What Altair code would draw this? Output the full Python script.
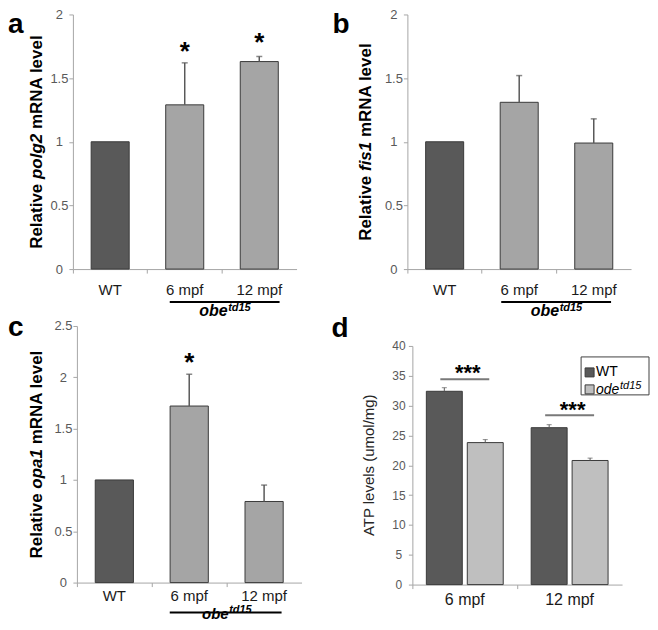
import altair as alt
import pandas as pd

# ---------------- data ----------------
categories = ["WT", "6 mpf", "12 mpf"]
groups_abc = ["WT", "mut", "mut"]

polg2_mean = [1.0, 1.29, 1.63]
polg2_err = [0.0, 0.33, 0.04]
fis1_mean = [1.0, 1.31, 0.99]
fis1_err = [0.0, 0.21, 0.19]
opa1_mean = [1.0, 1.72, 0.79]
opa1_err = [0.0, 0.31, 0.16]

stars_a_cat = ["6 mpf", "12 mpf"]
stars_a_y = [1.71, 1.78]
stars_c_cat = ["6 mpf"]
stars_c_y = [2.15]

atp_groups = ["6 mpf", "12 mpf"]
atp_series = ["WT", "ode"]
atp_wt = [32.4, 26.3]
atp_wt_err = [0.6, 0.5]
atp_ode = [23.8, 20.8]
atp_ode_err = [0.5, 0.4]
sig_line_y = [34.4, 28.4]
sig_star_y = [35.8, 29.6]

# ---------------- style ----------------
FONT = "Liberation Sans"
AX = "#a6a6a6"
LAB = "#595959"
WT_C = "#595959"
MUT_C = "#a5a5a5"
ODE_C = "#bfbfbf"
EDGE = "#3a3a3a"
ERR_C = "#595959"
COLOR_SCALE = alt.Scale(domain=["WT", "mut", "ode"], range=[WT_C, MUT_C, ODE_C])

BOLD_W = {'R': 722, 'e': 556, 'l': 278, 'a': 556, 't': 333, 'i': 278, 'v': 556,
          ' ': 278, 'p': 611, 'o': 611, 'g': 611, '2': 556, '1': 556, 'f': 333,
          's': 556, 'm': 889, 'N': 722, 'A': 722}


def tw(s, size):
    return sum(BOLD_W[c] for c in s) * size / 1000.0


one = pd.DataFrame({"k": [0]})


def txt(text, x, y, **kw):
    kw.setdefault("font", FONT)
    return alt.Chart(one).mark_text(text=text, **kw).encode(
        x=alt.value(x), y=alt.value(y))


def ytitle(pieces, cx, cy, size=17):
    total = sum(tw(t, size) for t, _ in pieces) + tw(" ", size) * (len(pieces) - 1)
    y = cy + total / 2
    out = []
    for t, it in pieces:
        out.append(txt(t, cx, y, angle=270, align="left", baseline="middle",
                       fontSize=size, fontWeight="bold",
                       fontStyle="italic" if it else "normal", color="black"))
        y -= tw(t, size) + tw(" ", size)
    return out


def obe(cx, x1, x2, yline, yb, size=16):
    line = alt.Chart(one).mark_rule(color="black", strokeWidth=2).encode(
        x=alt.value(x1), x2=alt.value(x2), y=alt.value(yline))
    t1 = txt("obe", cx + 3, yb, align="right", baseline="alphabetic", fontSize=size,
             fontWeight="bold", fontStyle="italic", color="black")
    t2 = txt("td15", cx + 3.5, yb - 5.5, align="left", baseline="alphabetic", fontSize=11,
             fontWeight="bold", fontStyle="italic", color="black")
    return [line, t1, t2]


def mrna_panel(letter, letter_x, letter_y, letter_base, gene, mean, err, ymax, yvals,
               stars_cat, stars_y, width, height, xr0, title_cx, xlab_pad,
               obe_cx, obe_x1, obe_x2, obe_line, obe_base, obe_size=16):
    df = pd.DataFrame({"cat": categories, "grp": groups_abc, "mean": mean, "err": err})
    df["top"] = df["mean"] + df["err"]

    def X(field="cat:N"):
        return alt.X(field, sort=categories,
                     scale=alt.Scale(domain=categories, range=[xr0, width],
                                     paddingInner=0, paddingOuter=0),
                     axis=alt.Axis(title=None, bandPosition=0,
                                   labelAngle=0, labelFont=FONT, labelFontSize=15,
                                   labelColor="#1a1a1a", labelPadding=xlab_pad, tickSize=4,
                                   tickColor=AX, domainColor=AX, labelOverlap=False))

    def Y(field):
        return alt.Y(field, scale=alt.Scale(domain=[0, ymax], nice=False),
                     axis=alt.Axis(title=None, values=yvals, format="~g", grid=False,
                                   labelAlign="center", labelPadding=10, tickSize=4,
                                   labelFont=FONT, labelFontSize=13, labelColor=LAB,
                                   tickColor=AX, domainColor=AX, offset=-xr0,
                                   labelOverlap=False))

    bars = alt.Chart(df).mark_bar(width={"band": 0.51}, stroke=EDGE, strokeWidth=1).encode(
        x=X(), y=Y("mean:Q"),
        color=alt.Color("grp:N", scale=COLOR_SCALE, legend=None))
    err_r = alt.Chart(df).transform_filter("datum.err > 0").mark_rule(
        color=ERR_C, strokeWidth=1.5).encode(x=X(), y=Y("mean:Q"), y2="top:Q")
    cap = alt.Chart(df).transform_filter("datum.err > 0").mark_tick(
        color=ERR_C, size=6, thickness=1.5, orient="horizontal").encode(x=X(), y=Y("top:Q"))
    layers = [bars, err_r, cap]
    if stars_cat:
        sdf = pd.DataFrame({"cat": stars_cat, "y": stars_y})
        layers.append(alt.Chart(sdf).mark_text(text="*", font=FONT, fontSize=26,
                                               fontWeight="bold", baseline="middle",
                                               dy=1, color="black").encode(
            x=X(), y=Y("y:Q")))
    layers += ytitle([("Relative", False), (gene, True), ("mRNA level", False)],
                     title_cx, height / 2)
    layers.append(txt(letter, letter_x, letter_y, align="left", baseline=letter_base,
                      fontSize=28, fontWeight="bold", color="black"))
    layers += obe(obe_cx, obe_x1, obe_x2, obe_line, obe_base, obe_size)
    return alt.layer(*layers).properties(width=width, height=height)


pa = mrna_panel("a", -65, -3, "top", "polg2", polg2_mean, polg2_err, 2,
                [0, 0.5, 1, 1.5, 2], stars_a_cat, stars_a_y, 224, 255, 0, -36, 9,
                152, 97, 207, 288, 302)
pb = mrna_panel("b", -75, -3, "top", "fis1", fis1_mean, fis1_err, 2,
                [0, 0.5, 1, 1.5, 2], [], [], 224, 255, 0, -41.5, 9,
                149, 94, 204, 288, 302)
pc = mrna_panel("c", -65, 10, "alphabetic", "opa1", opa1_mean, opa1_err, 2.5,
                [0, 0.5, 1, 1.5, 2, 2.5], stars_c_cat, stars_c_y, 229, 257, 4, -36, 2,
                153, 97, 209, 287, 293, 15)

# ---------------- panel d ----------------
ddf = pd.DataFrame({
    "grp": atp_groups * 2,
    "series": [atp_series[0]] * 2 + [atp_series[1]] * 2,
    "mean": atp_wt + atp_ode,
    "err": atp_wt_err + atp_ode_err,
})
ddf["top"] = ddf["mean"] + ddf["err"]
D_W, D_H, D_X0, D_Y0 = 215, 259, 5, 20


def DX(field="grp:N"):
    return alt.X(field, sort=atp_groups,
                 scale=alt.Scale(domain=atp_groups, range=[D_X0, D_W],
                                 paddingInner=0, paddingOuter=0),
                 axis=alt.Axis(title=None, bandPosition=0,
                               labelAngle=0, labelFont=FONT, labelFontSize=16,
                               labelColor="#1a1a1a", labelPadding=3, tickSize=4,
                               tickColor=AX, domainColor=AX, labelOverlap=False))


def DY(field):
    return alt.Y(field, scale=alt.Scale(domain=[0, 40], nice=False, range=[D_H, D_Y0]),
                 axis=alt.Axis(title=None, values=list(range(0, 41, 5)), grid=False,
                               labelAlign="center", labelPadding=10, tickSize=4,
                               labelFont=FONT, labelFontSize=12, labelColor=LAB,
                               tickColor=AX, domainColor=AX, offset=-D_X0,
                               labelOverlap=False))


XO = alt.XOffset("series:N", sort=atp_series,
                 scale=alt.Scale(domain=atp_series, paddingInner=0.122, paddingOuter=0.3415))

d_bars = alt.Chart(ddf).mark_bar(stroke=EDGE, strokeWidth=1).encode(
    x=DX(), xOffset=XO, y=DY("mean:Q"),
    color=alt.Color("series:N", scale=COLOR_SCALE, legend=None))
d_err = alt.Chart(ddf).mark_rule(color=ERR_C, strokeWidth=1).encode(
    x=DX(), xOffset=XO, y=DY("mean:Q"), y2="top:Q")
d_cap = alt.Chart(ddf).mark_tick(color=ERR_C, size=5, thickness=1, orient="horizontal").encode(
    x=DX(), xOffset=XO, y=DY("top:Q"))
sdf_d = pd.DataFrame({"grp": atp_groups, "line": sig_line_y, "star": sig_star_y})
d_sig = alt.Chart(sdf_d).mark_tick(color="#404040", size=49, thickness=2,
                                   orient="horizontal").encode(x=DX(), y=DY("line:Q"))
d_star = alt.Chart(sdf_d).mark_text(text="***", font=FONT, fontSize=22, fontWeight="bold",
                                    baseline="middle", dy=2, dx=3, color="black").encode(
    x=DX(), y=DY("star:Q"))

d_layers = [d_bars, d_err, d_cap, d_sig, d_star]
d_layers.append(txt("ATP levels (umol/mg)", -38, (D_H + D_Y0) / 2, angle=270,
                    align="center", baseline="middle", fontSize=15, color="#262626"))
d_layers.append(txt("d", -76, 11, align="left", baseline="alphabetic", fontSize=28,
                    fontWeight="bold", color="black"))
# legend
d_layers.append(alt.Chart(one).mark_rect(fill="white", stroke="#404040", strokeWidth=1).encode(
    x=alt.value(174), x2=alt.value(242), y=alt.value(31), y2=alt.value(69)))
d_layers.append(alt.Chart(one).mark_rect(fill=WT_C, stroke=EDGE, strokeWidth=1).encode(
    x=alt.value(178), x2=alt.value(187), y=alt.value(42), y2=alt.value(51)))
d_layers.append(alt.Chart(one).mark_rect(fill=ODE_C, stroke=EDGE, strokeWidth=1).encode(
    x=alt.value(178), x2=alt.value(187), y=alt.value(59), y2=alt.value(68)))
d_layers.append(txt("WT", 189, 46.5, align="left", baseline="middle", fontSize=14,
                    color="black"))
d_layers.append(txt("ode", 189, 64, align="left", baseline="middle", fontSize=14,
                    fontStyle="italic", color="black"))
d_layers.append(txt("td15", 213, 60, align="left", baseline="middle", fontSize=11,
                    fontStyle="italic", color="black"))

pd_ = alt.layer(*d_layers).properties(width=D_W, height=D_H)

chart = alt.concat(pa, pb, pc, pd_, columns=2, bounds="flush",
                   spacing={"row": 57, "column": 106}).properties(
    padding={"left": 0, "top": 0, "right": 0, "bottom": 0},
    background="white",
).configure_view(stroke=None)

chart.save("out.html", embed_options={"renderer": "svg", "actions": False})
